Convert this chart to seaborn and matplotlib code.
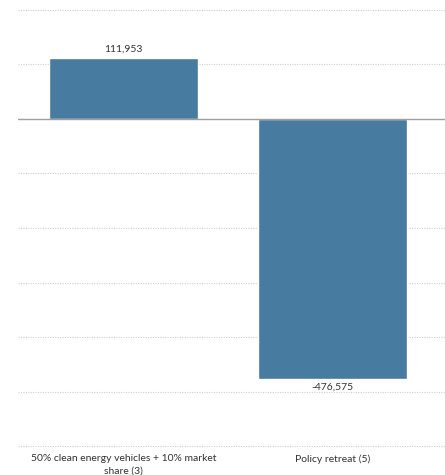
import matplotlib.pyplot as plt
import pandas as pd
import seaborn as sns

scenarios = ["50% clean energy vehicles + 10% market\nshare (3)", "Policy retreat (5)"]
values = [111953, -476575]
grid_ticks = [200000, 100000, 0, -100000, -200000, -300000, -400000, -500000, -600000]

df = pd.DataFrame({"Scenario": scenarios, "Value": values})

sns.set_style("white")
plt.rcParams['font.family'] = ['Lato', 'DejaVu Sans']

fig = plt.figure(figsize=(4.45, 4.75), dpi=100)
ax = fig.add_axes([0.04, 0.055, 0.96, 0.945])

ax = sns.barplot(x="Scenario", y="Value", data=df, color="#477ba0", saturation=1,
                 width=0.715, ax=ax, zorder=3)

ax.set_xlim(-0.505, 1.54)
ax.set_ylim(-605000, 218000)
ax.set_yticks(grid_ticks)
ax.set_yticklabels([])
ax.tick_params(axis="y", length=0)
ax.tick_params(axis="x", length=0, pad=4, labelsize=7.5, colors="#333333")
for lbl in ax.get_xticklabels():
    lbl.set_linespacing(1.4)
ax.grid(axis="y", linestyle=(0, (1, 1.2)), color="#d0d0d0", linewidth=0.8, zorder=0)
ax.axhline(0, color="#a0a0a0", linewidth=1.0, zorder=4)
ax.set_xlabel("")
ax.set_ylabel("")
for s in ax.spines.values():
    s.set_visible(False)

for container in ax.containers:
    ax.bar_label(container, labels=[f"{v:,}" for v in values], padding=3,
                 fontsize=7.5, color="#333333")

plt.savefig("out.png", dpi=100)
